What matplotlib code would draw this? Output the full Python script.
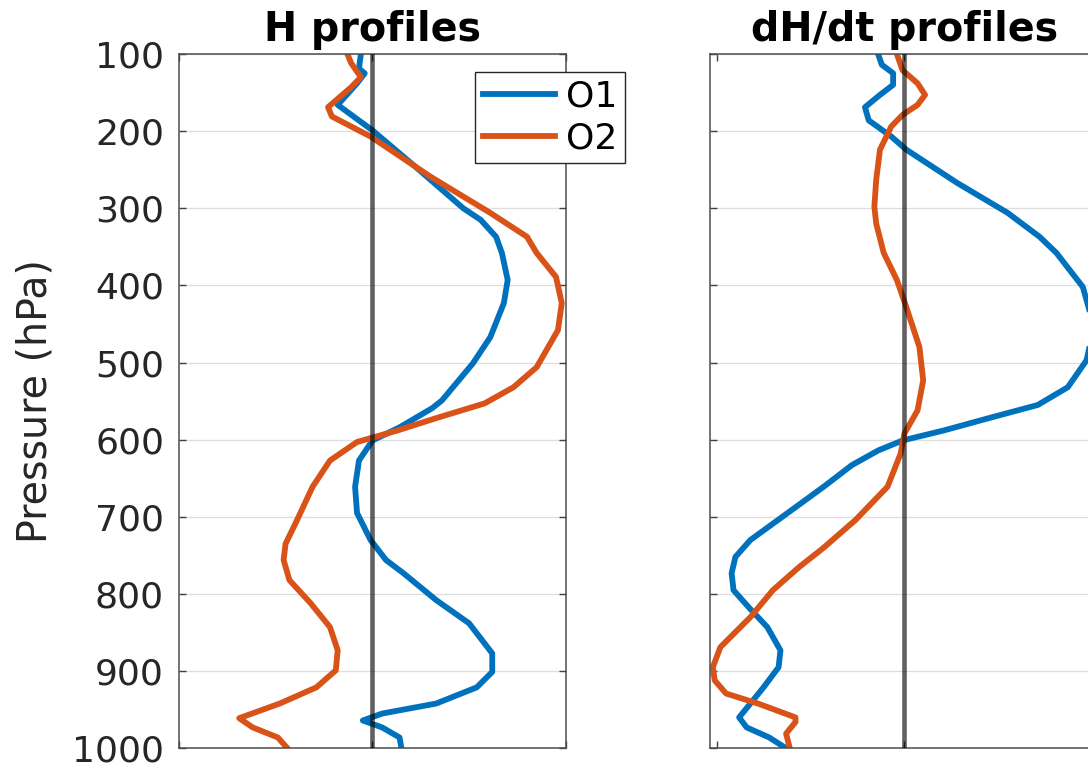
import matplotlib
matplotlib.use("Agg")
import matplotlib.pyplot as plt

# Pressure levels (hPa) and profile values for each panel
p_h_o1 = [100, 119, 125, 138, 166, 199, 250, 300, 315, 337, 358, 393, 423, 467,
          501, 549, 559, 584, 601, 627, 661, 695, 730, 756, 773, 808, 838, 877,
          901, 921, 942, 955, 964, 973, 986, 1000]
h_o1 = [-0.06, -0.07, -0.04, -0.08, -0.18, 0.00, 0.24, 0.47, 0.56, 0.64, 0.67,
        0.70, 0.68, 0.61, 0.52, 0.36, 0.31, 0.14, 0.00, -0.07, -0.09, -0.08,
        -0.01, 0.07, 0.16, 0.33, 0.50, 0.62, 0.62, 0.54, 0.33, 0.05, -0.05,
        0.05, 0.14, 0.15]

p_h_o2 = [100, 112, 130, 143, 169, 181, 207, 259, 306, 337, 358, 389, 423, 458,
          506, 532, 553, 572, 588, 603, 627, 661, 704, 735, 756, 782, 812, 843,
          873, 899, 921, 942, 961, 973, 986, 1000]
h_o2 = [-0.13, -0.11, -0.06, -0.11, -0.23, -0.21, -0.01, 0.30, 0.61, 0.80, 0.85,
        0.95, 0.98, 0.96, 0.85, 0.73, 0.58, 0.33, 0.13, -0.08, -0.22, -0.31,
        -0.39, -0.45, -0.46, -0.43, -0.32, -0.22, -0.18, -0.19, -0.29, -0.48,
        -0.69, -0.62, -0.49, -0.44]

p_dh_o1 = [100, 114, 125, 140, 153, 169, 186, 207, 224, 267, 306, 337, 358, 402,
           445, 475, 497, 532, 555, 572, 588, 601, 614, 633, 661, 700, 730, 752,
           773, 795, 817, 843, 873, 895, 921, 960, 973, 986, 1000]
dh_o1 = [-0.14, -0.12, -0.06, -0.06, -0.13, -0.21, -0.19, -0.07, 0.01, 0.28,
         0.55, 0.72, 0.81, 0.95, 1.00, 0.99, 0.97, 0.87, 0.71, 0.45, 0.21,
         -0.01, -0.14, -0.28, -0.43, -0.65, -0.82, -0.90, -0.92, -0.91, -0.83,
         -0.73, -0.66, -0.67, -0.75, -0.88, -0.84, -0.72, -0.63]

p_dh_o2 = [100, 121, 138, 153, 166, 179, 194, 224, 263, 298, 320, 358, 393, 428,
           480, 523, 562, 592, 618, 661, 704, 740, 765, 795, 830, 869, 895, 912,
           929, 942, 960, 966, 981, 1000]
dh_o2 = [-0.04, -0.01, 0.07, 0.11, 0.07, -0.01, -0.07, -0.13, -0.15, -0.16,
         -0.15, -0.11, -0.04, 0.01, 0.08, 0.10, 0.07, 0.00, -0.02, -0.09, -0.26,
         -0.43, -0.56, -0.70, -0.82, -0.98, -1.02, -1.01, -0.95, -0.78, -0.58,
         -0.58, -0.63, -0.61]

series_labels = ["O1", "O2"]
titles = ["H profiles", "dH/dt profiles"]
pressure_ticks = [100, 200, 300, 400, 500, 600, 700, 800, 900, 1000]

C1 = (0.0, 0.447, 0.741)
C2 = (0.85, 0.325, 0.098)

plt.rcParams["font.family"] = ["DejaVu Sans"]

fig = plt.figure(figsize=(10.88, 7.68), dpi=100)
ax1 = fig.add_axes([0.1648, 0.0257, 0.3551, 0.904])
ax2 = fig.add_axes([0.6526, 0.0257, 0.3573, 0.904])


def style(ax, xlim, xticks, title, show_labels):
    ax.set_ylim(1000, 100)
    ax.set_xlim(*xlim)
    ax.set_yticks(pressure_ticks)
    ax.set_xticks(xticks)
    ax.set_xticklabels([])
    if show_labels:
        ax.set_yticklabels([str(v) for v in pressure_ticks])
    else:
        ax.set_yticklabels([])
    ax.tick_params(axis="both", direction="in", length=5, width=1.0,
                   color="0.25", labelsize=26, labelcolor="0.15", pad=11,
                   top=True, right=True)
    ax.grid(axis="y", color="0.87", linewidth=0.9)
    ax.set_axisbelow(True)
    for s in ax.spines.values():
        s.set_color("0.3")
        s.set_linewidth(1.1)
    ax.set_title(title, fontsize=28.5, fontweight="bold", pad=9, color="black")
    ax.axvline(0, color="black", alpha=0.62, linewidth=3.3, zorder=5)


lw = 4.2
ax1.plot(h_o1, p_h_o1, color=C1, lw=lw, solid_joinstyle="round", label=series_labels[0])
ax1.plot(h_o2, p_h_o2, color=C2, lw=lw, solid_joinstyle="round", label=series_labels[1])
style(ax1, (-1.0, 1.0), [-1, 0, 1], titles[0], True)
ax1.set_ylabel("Pressure (hPa)", fontsize=28.5, color="0.15", labelpad=12)

ax2.plot(dh_o1, p_dh_o1, color=C1, lw=lw, solid_joinstyle="round")
ax2.plot(dh_o2, p_dh_o2, color=C2, lw=lw, solid_joinstyle="round")
style(ax2, (-1.035, 1.035), [-1, 0, 1], titles[1], False)

leg = ax1.legend(loc="upper left", bbox_to_anchor=(475 / 1088, 1 - 72 / 768),
                 bbox_transform=fig.transFigure, borderaxespad=0, fancybox=False,
                 framealpha=1, edgecolor="0.15", handlelength=2.0,
                 handletextpad=0.3, labelspacing=0.2, borderpad=0.22,
                 fontsize=26)
leg.get_frame().set_linewidth(1.0)
leg.set_zorder(10)

fig.savefig("out.png", dpi=100)
